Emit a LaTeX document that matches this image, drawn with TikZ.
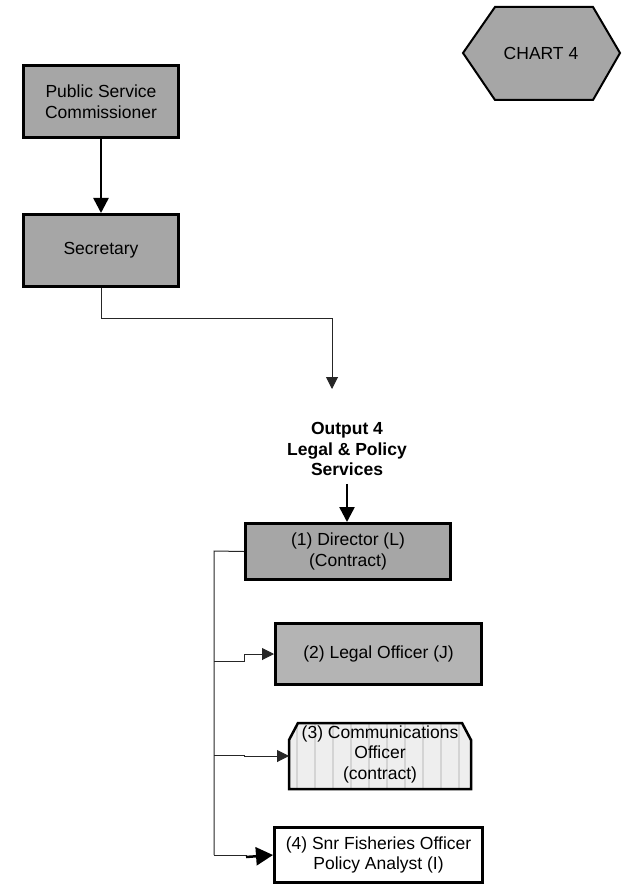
\documentclass[tikz,border=0pt]{standalone}
\usepackage{fontspec}
\setmainfont{Liberation Sans}
\usetikzlibrary{arrows.meta}
\definecolor{boxdark}{HTML}{A6A6A6}
\definecolor{boxmid}{HTML}{B4B4B4}
\definecolor{stripebg}{HTML}{EEEEEE}
\definecolor{stripefg}{HTML}{D4D4D4}
\begin{document}
\begin{tikzpicture}[x=1pt,y=-1pt,
  every node/.style={font=\fontsize{17.5}{20.5}\selectfont, align=center},
  post/.style={draw=black, line width=3pt, inner sep=0pt},
  bigtip/.style={-{Triangle[length=15pt,width=15pt]}, line width=2.5pt},
  smalltip/.style={-{Triangle[length=12pt,width=12pt]}, line width=1pt},
  link/.style={draw=black!85, line width=1pt}
]
\useasboundingbox (0,0) rectangle (621,893);

% title hexagon
\draw[line width=2pt, fill=boxdark] (463,53) -- (495,7) -- (593,7) -- (620,53) -- (593,100) -- (495,100) -- cycle;
\node (chart) at (541,53) {CHART 4};

% top of the structure
\node[post, fill=boxdark, minimum width=155pt, minimum height=72pt] (psc) at (101,101.5) {Public Service\\Commissioner};
\node[post, fill=boxdark, minimum width=155pt, minimum height=72pt] (sec) at (101,250.5) {Secretary};
\draw[bigtip] (psc.south) -- (sec.north);

% output heading
\node[font=\fontsize{17.5}{20.5}\selectfont\bfseries, inner sep=0pt] (out) at (347,449) {Output 4\\Legal \& Policy\\Services};
\coordinate (outin) at (332,389);
\draw[link, smalltip] (sec.south) |- (332,318) -- (outin);

% director
\node[post, fill=boxdark, minimum width=205pt, minimum height=56pt] (dir) at (348,551.5) {(1) Director (L)\\(Contract)};
\draw[bigtip, shorten <=8pt] (out.south) -- (out.south |- dir.north);

% positions under the director
\node[post, fill=boxmid, minimum width=206pt, minimum height=61pt] (legal) at (378.5,654) {(2) Legal Officer (J)};

% communications officer: chamfered top corners, striped fill
\coordinate (comm) at (380,756);
\begin{scope}
  \clip (289,740) -- (298,723) -- (462,723) -- (471,740) -- (471,789) -- (289,789) -- cycle;
  \fill[stripebg] (289,723) rectangle (471,789);
  \foreach \sx in {297,315,...,470} {
    \draw[stripefg, line width=1.6pt] (\sx,723) -- (\sx,789);
  }
\end{scope}
\draw[line width=2.5pt, line join=miter] (289,740) -- (298,723) -- (462,723) -- (471,740) -- (471,789) -- (289,789) -- cycle;
\node[inner sep=0pt] (commtext) at (380,754) {(3) Communications\\Officer\\(contract)};
\coordinate (commwest) at (289,756);

\node[post, fill=white, minimum width=208pt, minimum height=55pt] (snr) at (378.5,855) {(4) Snr Fisheries Officer\\Policy Analyst (I)};

% reporting lines from the director
\coordinate (spine) at (214,551);
\coordinate (spineend) at (214,855);
\draw[link] (dir.west) -- (spine) -- (spineend);
\draw[link, smalltip] (214,661) -- (244,661) -- (244,654) -- (legal.west);
\draw[link, smalltip] (214,755) -- (244,755) -- (244,756) -- (commwest);
\draw[link] (spineend) -- (246,855) -- (246,857);
\draw[-{Triangle[length=17pt,width=18pt]}, line width=2.5pt] (246,857) -- (snr.west);
\end{tikzpicture}
\end{document}
